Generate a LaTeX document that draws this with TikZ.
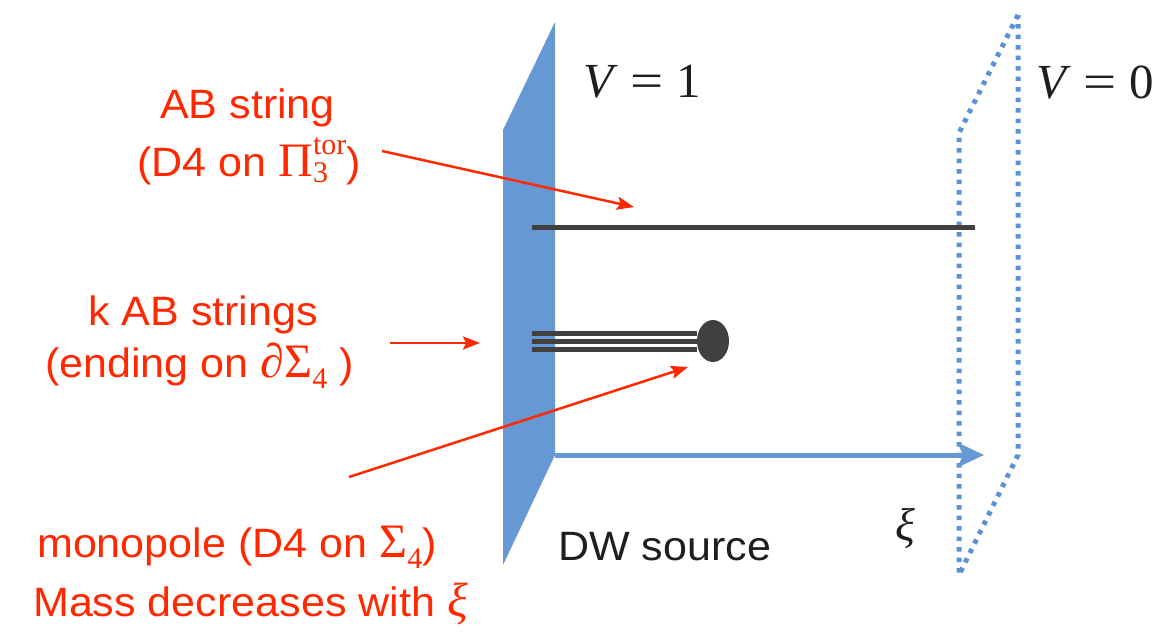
\documentclass[tikz,border=0pt]{standalone}
\usepackage{graphicx}
\usepackage{fontspec}
\setmainfont{Liberation Sans}[FakeStretch=1.05]
\newfontfamily\tms{Liberation Serif}
\usetikzlibrary{arrows.meta,shapes.geometric}
\definecolor{wallblue}{RGB}{102,152,212}
\definecolor{dotblue}{RGB}{91,146,214}
\definecolor{redtxt}{RGB}{255,40,0}
\definecolor{strgray}{RGB}{64,64,64}
\definecolor{blacktxt}{RGB}{30,30,30}
\newcommand\scr[1]{\hbox{\tms\fontsize{30}{30}\selectfont #1}}
\newcommand\bigsym[1]{\hbox{\tms\fontsize{48}{48}\selectfont #1}}
\newcommand\eqsign{\scalebox{1.2}[1]{=}}
\begin{document}
\begin{tikzpicture}[x=1pt,y=-1pt,
  redlbl/.style={text=redtxt,font=\fontsize{41}{46}\selectfont,inner sep=0pt,anchor=base west},
  mathlbl/.style={text=blacktxt,font=\tms\fontsize{49}{55}\selectfont,inner sep=0pt,anchor=base west},
  redarrow/.style={draw=redtxt,line width=2.5pt,-{Stealth[length=17pt,width=13pt,inset=3pt]}},
  blueaxis/.style={draw=wallblue,line width=5pt,-{Stealth[length=26pt,width=24pt,inset=5pt]}},
  wall/.style={fill=wallblue},
  dotplane/.style={draw=dotblue,line width=5pt,dash pattern=on 4.5pt off 6pt},
  brane/.style={draw=strgray,line width=5pt},
  kbrane/.style={draw=strgray,line width=5pt}]
\useasboundingbox (0,0) rectangle (1173,633);
% DW source wall
\fill[wall] (555,22) -- (503,130) -- (503,565) -- (555,455) -- cycle;
% V=0 plane
\draw[dotplane] (1018,15) -- (959,133) -- (959,575) -- (1018,455) -- cycle;
% AB string
\coordinate (s1a) at (532,227); \coordinate (s1b) at (975,227);
\draw[brane] (s1a) -- (s1b);
% k AB strings and monopole
\node[fill=strgray,ellipse,minimum width=32pt,minimum height=42pt,inner sep=0pt] (mono) at (713,341) {};
\coordinate (k1a) at (532,333); \coordinate (k1b) at (697,333);
\coordinate (k2a) at (532,341); \coordinate (k2b) at (697,341);
\coordinate (k3a) at (532,349); \coordinate (k3b) at (697,349);
\draw[kbrane] (k1a) -- (k1b);
\draw[kbrane] (k2a) -- (k2b);
\draw[kbrane] (k3a) -- (k3b);
% xi axis
\coordinate (ax0) at (555,455); \coordinate (ax1) at (984,455);
\draw[blueaxis] (ax0) -- (ax1);
% labels
\node[mathlbl] (v1) at (583,97) {\itshape V\upshape\hspace{0.36em}\eqsign\hspace{0.26em}1};
\node[mathlbl] (v0) at (1036,98) {\itshape V\upshape\hspace{0.36em}\eqsign\hspace{0.26em}0};
\node[text=blacktxt,font=\tms\itshape\fontsize{46}{50}\selectfont,inner sep=0pt] (xi) at (905,528) {ξ};
\node[text=blacktxt,font=\fontsize{41}{46}\selectfont,inner sep=0pt,anchor=base west] (dw) at (558,560) {DW source};
\node[redlbl] (ab1) at (160,118) {AB string};
\node[redlbl] (ab2) at (137,176) {(D4 on $\bigsym{Π}_{\scr{3}}^{\scr{tor}}$)};
\node[redlbl] (k1) at (88,325) {k AB strings};
\node[redlbl] (k2) at (45,377) {(ending on $\bigsym{\itshape ∂}\bigsym{Σ}_{\scr{4}}$ )};
\node[redlbl] (m1) at (37,557) {monopole (D4 on $\bigsym{Σ}_{\scr{4}}$)};
\node[redlbl] (m2) at (33,616) {Mass decreases with \bigsym{\itshape ξ}};
% red arrows
\coordinate (a1s) at (382,151); \coordinate (a1e) at (634,207);
\coordinate (a2s) at (390,343); \coordinate (a2e) at (480,343);
\coordinate (a3s) at (349,477); \coordinate (a3e) at (688,367);
\draw[redarrow] (a1s) -- (a1e);
\draw[redarrow] (a2s) -- (a2e);
\draw[redarrow] (a3s) -- (a3e);
\end{tikzpicture}
\end{document}
